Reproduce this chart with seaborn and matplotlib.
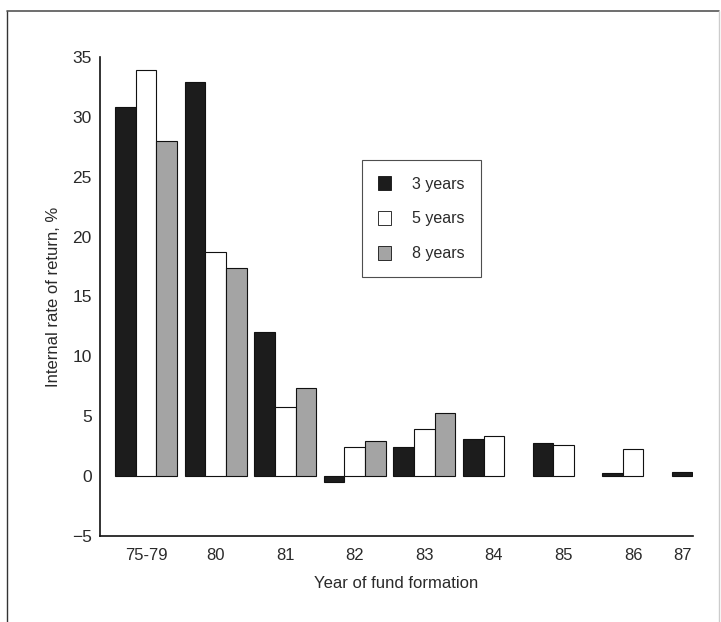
import numpy as np
import pandas as pd
import matplotlib
matplotlib.use("Agg")
import matplotlib.pyplot as plt
import seaborn as sns
from matplotlib.lines import Line2D

categories = ["75-79", "80", "81", "82", "83", "84", "85", "86", "87"]
three_years = [30.8, 32.9, 12.0, -0.5, 2.4, 3.1, 2.8, 0.27, 0.35]
five_years = [33.9, 18.7, 5.8, 2.4, 3.9, 3.35, 2.6, 2.3, np.nan]
eight_years = [28.0, 17.4, 7.4, 2.9, 5.3, np.nan, np.nan, np.nan, np.nan]
series_names = ["3 years", "5 years", "8 years"]
y_ticks = [-5, 0, 5, 10, 15, 20, 25, 30, 35]

df = pd.DataFrame({
    "year": categories * 3,
    "series": [series_names[0]] * 9 + [series_names[1]] * 9 + [series_names[2]] * 9,
    "irr": three_years + five_years + eight_years,
})

sns.set_style("white")
plt.rcParams["font.family"] = ["Liberation Sans", "DejaVu Sans"]
text_color = "#2a2a2a"

fig = plt.figure(figsize=(7.21, 6.22), dpi=100)
ax = fig.add_axes([100 / 721, 1 - 536 / 622, 593 / 721, 479 / 622])

palette = {"3 years": "#1c1c1c", "5 years": "#ffffff", "8 years": "#a4a4a4"}
sns.barplot(data=df, x="year", y="irr", hue="series", order=categories,
            hue_order=series_names, palette=palette, width=0.89,
            edgecolor="#111111", linewidth=0.8, saturation=1, ax=ax,
            legend=True)

ax.set_ylim(-5, 35)
ax.set_xlim(-0.661, 7.86)
ax.set_yticks(y_ticks)
ax.set_yticklabels(["\u22125"] + [str(t) for t in y_ticks[1:]])
tick_pos = list(range(8)) + [7.71]
ax.set_xticks(tick_pos)
ax.set_xticklabels(categories)

for s in ["top", "right"]:
    ax.spines[s].set_visible(False)
for s in ["left", "bottom"]:
    ax.spines[s].set_color("#111111")
    ax.spines[s].set_linewidth(1.2)

ax.tick_params(axis="y", direction="in", length=8, width=1, color="#333333",
               labelsize=12.5, labelcolor=text_color, pad=6)
ax.tick_params(axis="x", length=0, labelsize=12, labelcolor=text_color, pad=9)

ax.set_xlabel("Year of fund formation", fontsize=12, color=text_color, labelpad=9)
ax.set_ylabel("Internal rate of return, %", fontsize=12, color=text_color, labelpad=8)

handles, labels = ax.get_legend_handles_labels()
leg = ax.legend(handles, labels, loc="upper left",
                bbox_to_anchor=((362 - 100) / 593, (536 - 160) / 479),
                frameon=True, fancybox=False, edgecolor="#222222",
                fontsize=11.5, labelcolor=text_color,
                handlelength=0.8, handleheight=1.0, handletextpad=1.35,
                labelspacing=1.2, borderpad=1.0, borderaxespad=0)
leg.get_frame().set_linewidth(0.8)
for h in leg.legend_handles:
    h.set_linewidth(0.6)

# page frame lines
fig.add_artist(Line2D([7 / 721, 7 / 721], [0, 1 - 11 / 622], transform=fig.transFigure,
                      color="#333333", linewidth=1))
fig.add_artist(Line2D([7 / 721, 719 / 721], [1 - 11 / 622, 1 - 11 / 622],
                      transform=fig.transFigure, color="#555555", linewidth=1.2))
fig.add_artist(Line2D([719 / 721, 719 / 721], [0, 1 - 11 / 622], transform=fig.transFigure,
                      color="#cccccc", linewidth=1))

fig.savefig("out.png", dpi=100)
